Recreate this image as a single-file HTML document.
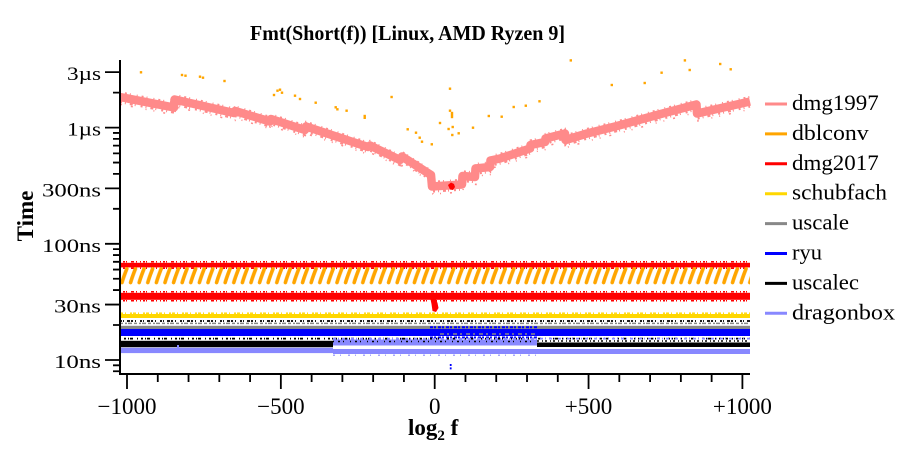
<!DOCTYPE html>
<html>
<head>
<meta charset="utf-8">
<style>
html,body{margin:0;padding:0;background:#fff;}
svg{display:block;}
text{font-family:"Liberation Serif",serif;fill:#000;}
</style>
</head>
<body>
<svg width="900" height="450" viewBox="0 0 900 450" xmlns="http://www.w3.org/2000/svg">
<defs>
<pattern id="slash" patternUnits="userSpaceOnUse" x="120" y="266" width="8.6" height="19">
<path d="M2,16.6 C3.2,12 5,7.5 6.8,2.8" stroke="#ffa500" stroke-width="3.6" fill="none" stroke-linecap="round"/>
</pattern>
<marker id="dot" markerUnits="userSpaceOnUse" markerWidth="3" markerHeight="3" refX="1.2" refY="1.2" overflow="visible">
<rect x="0" y="0" width="2.4" height="2.4" fill="#ffa500"/>
</marker>
<polyline id="dmgline" fill="none" points="120,97 174,107.5 174.5,99.5 234,113 235,111 270,121.5 271,119 305,130 306,126.5 368,147 370,145.5 400,160 402,156.5 431,175 432,186.5 462,184.5 462.5,176 475,177 475.5,168.5 490,167 490.5,160.5 500,158.5 530,148.5 530.5,145 545,142 545.5,138.5 565,133.5 565.5,140 587,133.5 617,126 657,115 696.5,104.5 697,113.5 750,101.5"/>
</defs>
<rect width="900" height="450" fill="#fff"/>
<text x="250" y="40" font-size="21" font-weight="bold" textLength="315" lengthAdjust="spacingAndGlyphs">Fmt(Short(f)) [Linux, AMD Ryzen 9]</text>

<use href="#dmgline" stroke="#ff8a8a" stroke-width="8.5" stroke-linejoin="round"/>
<use href="#dmgline" transform="translate(0,5)" stroke="#ff8a8a" stroke-width="2.4" stroke-dasharray="2 3 1 4 3 2 1 5"/>
<use href="#dmgline" transform="translate(0,-4.8)" stroke="#ff8a8a" stroke-width="1.8" stroke-dasharray="1 4 2 3 1 6"/>
<use href="#dmgline" transform="translate(1,7.5)" stroke="#ff8a8a" stroke-width="1.5" stroke-dasharray="1 9 2 13 1 7"/>
<path d="M448,185 L451,182.5 L454,184 L455,187 L453,190 L450,189.5 Z" fill="#ff0000"/>

<polyline fill="none" stroke="none" marker-start="url(#dot)" marker-mid="url(#dot)" marker-end="url(#dot)" points="141,72.3 182,75 185.5,75.7 200,76.7 203,77.7 224.5,81 274,95 277.5,90.7 280,89.7 282,92.7 295,95.7 300,99 315.7,102.7 335.7,107.3 337.4,109.3 346.6,110.7 364.7,116 364.7,117.8 391.6,97 407.7,129.3 416,132.7 419.7,137.7 422,141.7 431.8,144.3 440,123 450,88.7 450,110.7 452,113 452,115 452,117 448.6,129 452.7,127 452.3,135 458.7,133.3 473,127.7 488.8,116 501.7,116.7 513.7,107 525.8,105.7 539.5,101.3 570.8,60.4 611.8,85 644.7,83 661.6,72.7 684.9,60.4 689.7,70 720.2,64 730.7,69.3"/>

<rect x="120" y="262.8" width="630" height="4.6" fill="#ff0000"/>
<path stroke="#ff0000" stroke-width="1.5" stroke-dasharray="1 2 2 1 1 4 3 2 1 3" d="M120,261.8H750 M120,268.2H750 M120,291.8H750 M120,300.8H750"/>
<rect x="120" y="266" width="630" height="19" fill="url(#slash)"/>
<rect x="120" y="292.8" width="630" height="7" fill="#ff0000"/>
<path d="M430,297 L435,297 L437.5,303 L438.5,308 L436,312 L432.5,311 L431.5,304 Z" fill="#ff0000"/>

<rect x="120" y="314" width="630" height="4" fill="#ffd700"/>
<path stroke="#ffd700" stroke-width="1.4" stroke-dasharray="3 2 1 4 2 1" d="M120,313.2H750"/>
<path stroke="#000" stroke-width="1.8" stroke-dasharray="2 1 1 3 3 1 2 2 1 4" d="M120,321H750"/>
<path stroke="#888" stroke-width="1.5" stroke-dasharray="3 2 2 1 4 2" d="M120,323.4H750"/>
<rect x="120" y="325.8" width="630" height="3.4" fill="#888888"/>

<rect x="120" y="329" width="630" height="7" fill="#0000ff"/>
<path stroke="#0000ff" stroke-width="2" stroke-dasharray="3 1 2 2" d="M430,327.2H537 M430,337.5H537"/>
<path stroke="#888" stroke-width="1.5" stroke-dasharray="4 3 2 4" d="M440,334H537"/>

<path stroke="#000" stroke-width="1.8" stroke-dasharray="1 3 2 2 1 1 3 4" d="M120,338.6H750"/>
<path stroke="#8888ff" stroke-width="1.8" stroke-dasharray="3 2 1 3" d="M333,338.6H750"/>
<rect x="120" y="340.8" width="213" height="6.4" fill="#000"/>
<rect x="333" y="339.5" width="204" height="6" fill="#8888ff"/>
<path stroke="#000" stroke-width="1.6" stroke-dasharray="1 4 2 3 1 6" d="M333,341.5H537"/>
<rect x="537" y="342.5" width="213" height="4.5" fill="#000"/>
<path stroke="#000" stroke-width="1.4" stroke-dasharray="2 3 1 2" d="M537,341H750"/>

<rect x="120" y="347.8" width="213" height="5.3" fill="#8888ff"/>
<rect x="333" y="349" width="417" height="5" fill="#8888ff"/>
<path stroke="#8888ff" stroke-width="1.2" stroke-dasharray="2 5 1 7" d="M333,355.2H537"/>
<rect x="177" y="345" width="2" height="5" fill="#8888ff"/>
<path stroke="#0000ff" stroke-width="1.8" stroke-dasharray="2 1.4" d="M450.7,364V369.4"/>

<path stroke="#000" stroke-width="2" fill="none" d="M120,60V375 M119,374H750"/>
<path stroke="#000" stroke-width="1.8" fill="none" d="M105,360H120 M105,304.56H120 M105,243.8H120 M105,188.36H120 M105,127.6H120 M105,72.16H120 M113,371.26H120 M113,365.32H120 M113,325H120 M113,290.04H120 M113,278.78H120 M113,269.58H120 M113,261.8H120 M113,255.06H120 M113,249.12H120 M113,208.82H120 M113,173.84H120 M113,162.58H120 M113,153.38H120 M113,145.6H120 M113,138.86H120 M113,132.92H120 M113,92.62H120"/>
<path stroke="#000" stroke-width="1.8" fill="none" d="M127,374V389 M280.85,374V389 M434.7,374V389 M588.55,374V389 M742.4,374V389 M157.77,374V382 M188.54,374V382 M219.31,374V382 M250.08,374V382 M311.62,374V382 M342.39,374V382 M373.16,374V382 M403.93,374V382 M465.47,374V382 M496.24,374V382 M527.01,374V382 M557.78,374V382 M619.32,374V382 M650.09,374V382 M680.86,374V382 M711.63,374V382"/>

<g font-size="19">
<text x="67" y="80.2" textLength="34" lengthAdjust="spacingAndGlyphs">3µs</text>
<text x="67" y="135.6" textLength="34" lengthAdjust="spacingAndGlyphs">1µs</text>
<text x="42" y="196.4" textLength="59" lengthAdjust="spacingAndGlyphs">300ns</text>
<text x="42" y="251.8" textLength="59" lengthAdjust="spacingAndGlyphs">100ns</text>
<text x="54" y="312.6" textLength="47" lengthAdjust="spacingAndGlyphs">30ns</text>
<text x="54" y="368" textLength="47" lengthAdjust="spacingAndGlyphs">10ns</text>
</g>
<g font-size="23" text-anchor="middle">
<text x="127" y="414">−1000</text>
<text x="280.85" y="414">−500</text>
<text x="434.7" y="414">0</text>
<text x="588.55" y="414">+500</text>
<text x="742.4" y="414">+1000</text>
</g>
<text x="408" y="435" font-size="23" font-weight="bold">log<tspan font-size="15" dy="5">2</tspan><tspan dy="-5"> f</tspan></text>
<text transform="translate(33,216) rotate(-90)" text-anchor="middle" font-size="23" font-weight="bold">Time</text>

<g stroke-width="3" fill="none">
<path stroke="#ff8a8a" d="M765,104H787"/>
<path stroke="#ffa500" d="M765,133.9H787"/>
<path stroke="#ff0000" d="M765,163.8H787"/>
<path stroke="#ffd700" d="M765,193.7H787"/>
<path stroke="#888888" d="M765,223.6H787"/>
<path stroke="#0000ff" d="M765,253.5H787"/>
<path stroke="#000000" d="M765,283.4H787"/>
<path stroke="#8888ff" d="M765,313.3H787"/>
</g>
<g font-size="22">
<text x="792" y="110" textLength="86.7" lengthAdjust="spacingAndGlyphs">dmg1997</text>
<text x="792" y="139.9" textLength="76.7" lengthAdjust="spacingAndGlyphs">dblconv</text>
<text x="792" y="169.8" textLength="86.7" lengthAdjust="spacingAndGlyphs">dmg2017</text>
<text x="792" y="199.7" textLength="95" lengthAdjust="spacingAndGlyphs">schubfach</text>
<text x="792" y="229.6" textLength="57" lengthAdjust="spacingAndGlyphs">uscale</text>
<text x="792" y="259.5" textLength="30" lengthAdjust="spacingAndGlyphs">ryu</text>
<text x="792" y="289.4" textLength="67" lengthAdjust="spacingAndGlyphs">uscalec</text>
<text x="792" y="319.3" textLength="103" lengthAdjust="spacingAndGlyphs">dragonbox</text>
</g>
</svg>
</body>
</html>
